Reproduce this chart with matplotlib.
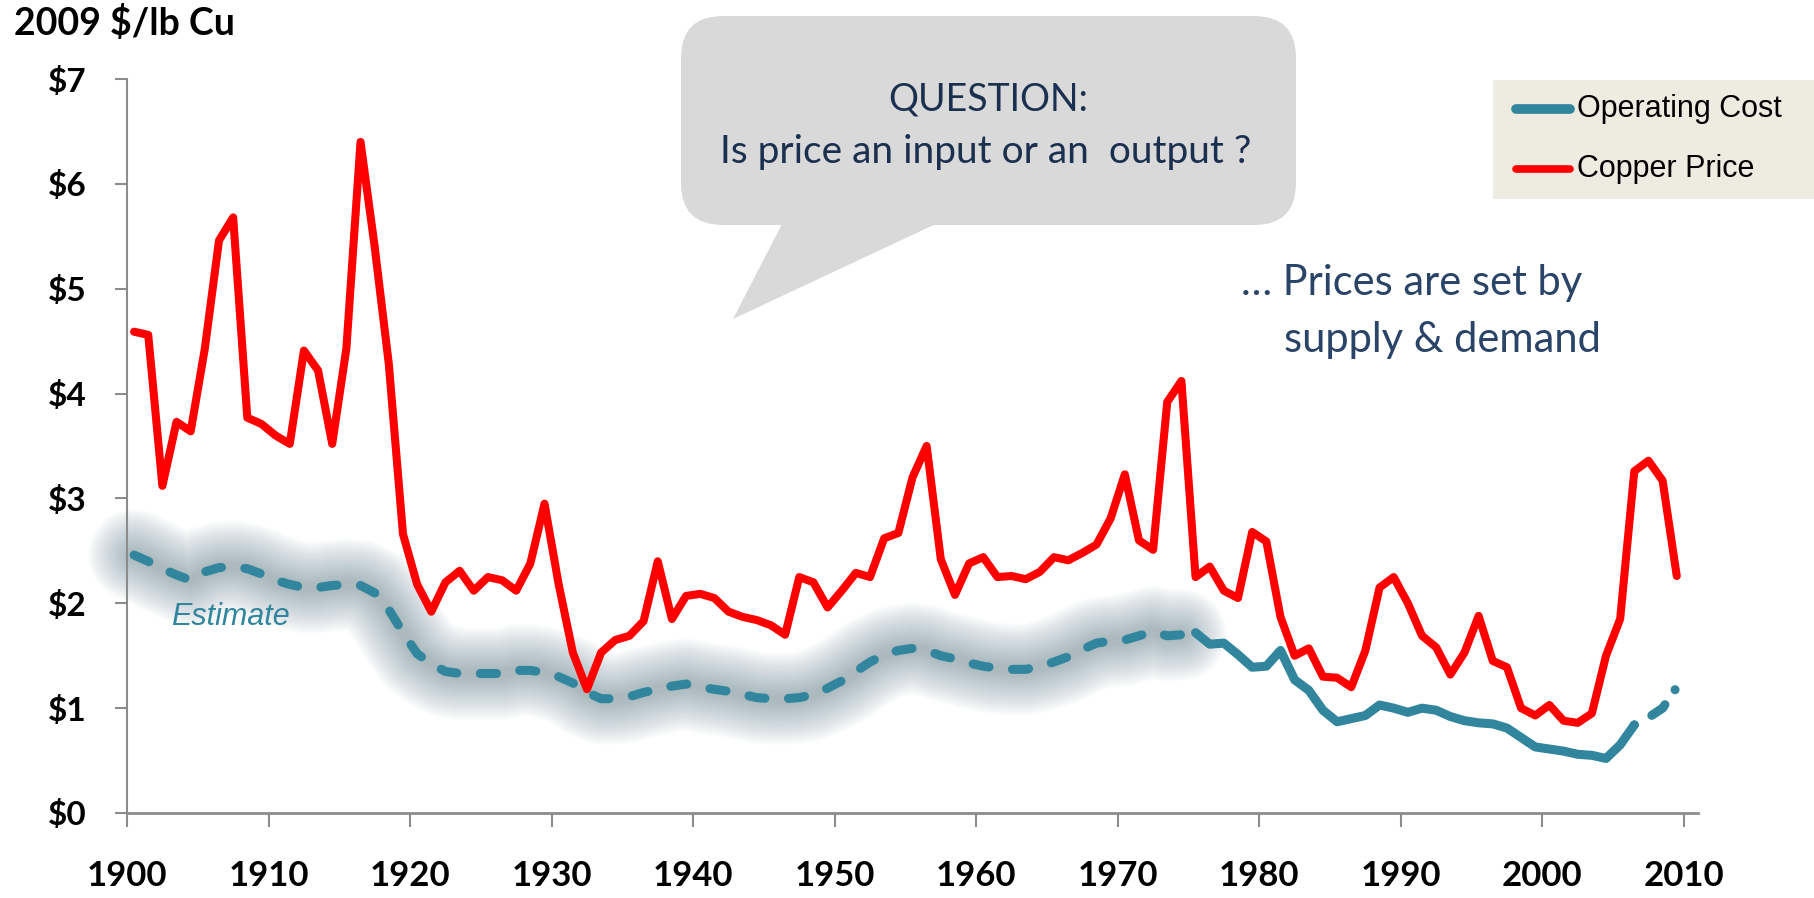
import numpy as np
import matplotlib
matplotlib.use('Agg')
import matplotlib.pyplot as plt
from matplotlib.patches import FancyBboxPatch, Polygon, Rectangle
from matplotlib.lines import Line2D
from matplotlib.transforms import IdentityTransform

# ---------------- data ----------------
years = list(range(1900, 2010))
copper_price = [
    4.59, 4.56, 3.12, 3.73, 3.64, 4.43, 5.46, 5.68, 3.77, 3.71,   # 1900s
    3.60, 3.52, 4.41, 4.22, 3.52, 4.43, 6.40, 5.40, 4.28, 2.66,   # 1910s
    2.18, 1.92, 2.20, 2.31, 2.12, 2.25, 2.22, 2.12, 2.38, 2.95,   # 1920s
    2.18, 1.53, 1.18, 1.53, 1.65, 1.69, 1.83, 2.40, 1.85, 2.07,   # 1930s
    2.09, 2.05, 1.92, 1.87, 1.84, 1.79, 1.70, 2.25, 2.20, 1.96,   # 1940s
    2.12, 2.29, 2.25, 2.62, 2.67, 3.20, 3.50, 2.42, 2.08, 2.38,   # 1950s
    2.44, 2.25, 2.26, 2.23, 2.30, 2.44, 2.41, 2.48, 2.56, 2.81,   # 1960s
    3.23, 2.60, 2.51, 3.92, 4.12, 2.25, 2.35, 2.12, 2.05, 2.68,   # 1970s
    2.59, 1.87, 1.50, 1.57, 1.30, 1.29, 1.20, 1.55, 2.15, 2.25,   # 1980s
    2.00, 1.69, 1.58, 1.32, 1.53, 1.88, 1.45, 1.39, 1.00, 0.93,   # 1990s
    1.03, 0.88, 0.86, 0.95, 1.50, 1.85, 3.26, 3.36, 3.17, 2.26,   # 2000s
]

estimate_years = list(range(1900, 1975))
cost_estimate = [
    2.46, 2.40, 2.33, 2.27, 2.22, 2.30, 2.34, 2.35, 2.33, 2.28,   # 1900s
    2.22, 2.18, 2.15, 2.15, 2.17, 2.18, 2.17, 2.10, 1.94, 1.72,   # 1910s
    1.52, 1.42, 1.35, 1.33, 1.33, 1.33, 1.33, 1.36, 1.36, 1.34,   # 1920s
    1.30, 1.24, 1.15, 1.09, 1.09, 1.11, 1.15, 1.18, 1.21, 1.23,   # 1930s
    1.20, 1.18, 1.16, 1.13, 1.10, 1.09, 1.09, 1.10, 1.13, 1.19,   # 1940s
    1.26, 1.35, 1.44, 1.51, 1.55, 1.57, 1.55, 1.50, 1.47, 1.43,   # 1950s
    1.40, 1.38, 1.37, 1.37, 1.40, 1.44, 1.49, 1.56, 1.62, 1.64,   # 1960s
    1.65, 1.69, 1.73, 1.69, 1.70,                                 # 1970-74
]

actual_years = list(range(1975, 2010))
cost_actual = [
    1.72, 1.61, 1.62, 1.51, 1.39,                                 # 1975-79
    1.40, 1.55, 1.27, 1.17, 0.98, 0.87, 0.90, 0.93, 1.03, 1.00,   # 1980s
    0.96, 1.00, 0.98, 0.92, 0.88, 0.86, 0.85, 0.81, 0.72, 0.63,   # 1990s
    0.61, 0.59, 0.56, 0.55, 0.52, 0.65, 0.84, 0.91, 1.00, 1.20,   # 2000s
]
forecast_start = 2006

y_ticks = [0, 1, 2, 3, 4, 5, 6, 7]
y_labels = ['$0', '$1', '$2', '$3', '$4', '$5', '$6', '$7']
x_ticks = list(range(1900, 2011, 10))

# ---------------- styling ----------------
W, H = 1815, 898
RED = '#ff0000'
TEAL = '#31859c'
GLOW = '#5a7e8d'
GRAY = '#8c8c8c'
NAVY = '#1b2f4f'
NAVY2 = '#2a4468'

def fx(x):
    return x / W

def fy(y):
    return 1 - y / H

fig = plt.figure(figsize=(W / 100, H / 100), dpi=100)
fig.patch.set_facecolor('white')
ax = fig.add_axes([fx(127), fy(813), fx(1698) - fx(127), fy(79) - fy(813)])

xp = np.array(years) + 0.5
xe = np.array(estimate_years) + 0.5
xa = np.array(actual_years) + 0.5
ya = np.array(cost_actual)

# soft glow around the estimate
for lw in np.linspace(66, 6, 30):
    ax.plot(xe, cost_estimate, color=GLOW, lw=lw, alpha=0.021,
            solid_capstyle='round', solid_joinstyle='round', zorder=1,
            clip_on=False)

# estimate (dashed)
ax.plot(xe, cost_estimate, color=TEAL, lw=6.5, linestyle=(0, (1.8, 2.6)),
        dash_capstyle='round', zorder=3)

# actual (solid)
m = np.array(actual_years) <= forecast_start
ax.plot(xa[m], ya[m], color=TEAL, lw=6.5, solid_capstyle='round',
        solid_joinstyle='round', zorder=3)
# tail (dash-dot)
m2 = np.array(actual_years) >= forecast_start
ax.plot(xa[m2], ya[m2], color=TEAL, lw=6.5,
        linestyle=(0, (0.01, 2.2, 1.9, 2.0, 0.01, 3)),
        dash_capstyle='round', zorder=3)

# copper price
ax.plot(xp, copper_price, color=RED, lw=5.8, solid_joinstyle='round',
        solid_capstyle='round', zorder=4)

ax.set_xlim(1900, 2011)
ax.set_ylim(0, 7)
for s in ['top', 'right']:
    ax.spines[s].set_visible(False)
ax.spines['left'].set_color(GRAY)
ax.spines['left'].set_linewidth(1.5)
ax.spines['bottom'].set_color(GRAY)
ax.spines['bottom'].set_linewidth(2.0)

ax.set_yticks(y_ticks)
ax.set_yticklabels(y_labels, fontfamily='Lato', fontweight='bold', fontsize=24)
ax.set_xticks(x_ticks)
ax.set_xticklabels([str(t) for t in x_ticks], fontfamily='Lato',
                   fontweight='bold', fontsize=25)
ax.tick_params(axis='y', direction='out', length=9, width=1.5, color=GRAY, pad=20)
ax.tick_params(axis='x', direction='out', length=10, width=1.5, color=GRAY, pad=24)

# y-axis unit title
fig.text(fx(14), fy(23), '2009 $/lb Cu', fontfamily='Lato', fontweight='bold',
         fontsize=27, ha='left', va='center')

# Estimate label
fig.text(fx(171), fy(617), 'Estimate', fontfamily='Liberation Sans',
         fontstyle='italic', fontsize=22, color=TEAL, ha='left', va='center')

# speech bubble (display pixel coords)
def P(x, y):
    return (x, H - y)

bub = FancyBboxPatch(P(681, 225), 1296 - 681, 225 - 16,
                     boxstyle='round,pad=0,rounding_size=42',
                     transform=IdentityTransform(), facecolor='#d9d9d9',
                     edgecolor='none', zorder=5)
fig.patches.append(bub)
tail = Polygon([P(783, 222), P(940, 222), P(733, 319)], closed=True,
               transform=IdentityTransform(), facecolor='#d9d9d9',
               edgecolor='none', zorder=5)
fig.patches.append(tail)
fig.text(fx(988), fy(111), 'QUESTION:', fontfamily='Lato', fontsize=27,
         color=NAVY, ha='center', va='baseline', zorder=6)
fig.text(fx(986), fy(163), 'Is price an input or an  output ?', fontfamily='Lato',
         fontsize=28, color=NAVY, ha='center', va='baseline', zorder=6)

# annotation
fig.text(fx(1241), fy(295), '\u2026 Prices are set by', fontfamily='Lato',
         fontsize=30, color=NAVY2, ha='left', va='baseline')
fig.text(fx(1284), fy(352), 'supply & demand', fontfamily='Lato',
         fontsize=30, color=NAVY2, ha='left', va='baseline')

# legend box
fig.patches.append(Rectangle(P(1493, 199), 1815 - 1493, 199 - 80,
                             transform=IdentityTransform(), facecolor='#eeebe1',
                             edgecolor='none', zorder=5))
fig.lines.append(Line2D([fx(1516), fx(1570)], [fy(109), fy(109)],
                        transform=fig.transFigure, color=TEAL, lw=7,
                        solid_capstyle='round', zorder=6))
fig.lines.append(Line2D([fx(1516), fx(1570)], [fy(169), fy(169)],
                        transform=fig.transFigure, color=RED, lw=5.5,
                        solid_capstyle='round', zorder=6))
fig.text(fx(1577), fy(109), 'Operating Cost', fontfamily='Liberation Sans',
         fontsize=22, color='black', ha='left', va='center', zorder=6)
fig.text(fx(1577), fy(169), 'Copper Price', fontfamily='Liberation Sans',
         fontsize=22, color='black', ha='left', va='center', zorder=6)

fig.savefig('out.png', dpi=100, facecolor='white')
